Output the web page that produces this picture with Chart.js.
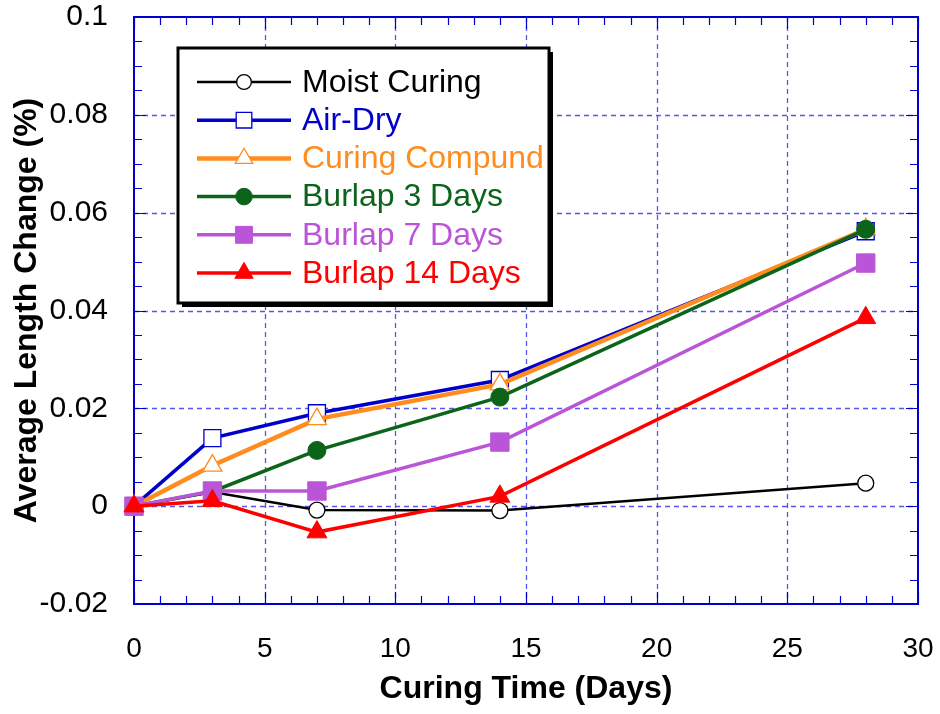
<!DOCTYPE html>
<html>
<head>
<meta charset="utf-8">
<script src="https://cdn.jsdelivr.net/npm/chart.js@4/dist/chart.umd.min.js"></script>
<style>
  html, body { margin: 0; padding: 0; background: #ffffff; }
  #wrap { width: 940px; height: 714px; }
</style>
</head>
<body>
<div id="wrap"><canvas id="c" width="940" height="714"></canvas></div>
<script>
// Curing time (days) at which length change was measured
const days = [0, 3, 7, 14, 28];

// Average length change (%) for each curing method
const moistCuring    = [0, 0.0029, -0.0008, -0.0009, 0.0047];
const airDry         = [0, 0.0139, 0.0190, 0.0258, 0.0562];
const curingCompound = [0, 0.0083, 0.0178, 0.0249, 0.0566];
const burlap3Days    = [0, 0.0030, 0.0114, 0.0223, 0.0566];
const burlap7Days    = [0, 0.0031, 0.0031, 0.0131, 0.0497];
const burlap14Days   = [0, 0.0011, -0.0053, 0.0020, 0.0385];

const seriesNames = ['Moist Curing', 'Air-Dry', 'Curing Compund', 'Burlap 3 Days', 'Burlap 7 Days', 'Burlap 14 Days'];

// Axis tick labels
const xTickLabels = ['0', '5', '10', '15', '20', '25', '30'];
const yTickLabels = ['-0.02', '0', '0.02', '0.04', '0.06', '0.08', '0.1'];

const FRAME = '#0000cc';
const GRID = '#5656e8';

const styles = [
  { color: '#000000', width: 2.5, point: 'circle',   radius: 8,    fill: false, border: 1.3 },
  { color: '#0000cc', width: 3.5, point: 'rect',     radius: 12,   fill: false, border: 1.3 },
  { color: '#ff8c1e', width: 4.5, point: 'triangle', radius: 11,   fill: false, border: 1.3 },
  { color: '#0b641a', width: 3.5, point: 'circle',   radius: 9,    fill: true,  border: 1 },
  { color: '#bb55d8', width: 3.5, point: 'rect',     radius: 13,   fill: true,  border: 1 },
  { color: '#ff0000', width: 3.5, point: 'triangle', radius: 11.5, fill: true,  border: 1 }
];
const seriesValues = [moistCuring, airDry, curingCompound, burlap3Days, burlap7Days, burlap14Days];

const datasets = seriesValues.map((vals, i) => {
  const s = styles[i];
  return {
    label: seriesNames[i],
    data: days.map((d, k) => ({ x: d, y: vals[k] })),
    showLine: true,
    borderColor: s.color,
    borderWidth: s.width,
    backgroundColor: s.color,
    pointStyle: s.point,
    pointRadius: s.radius,
    pointHoverRadius: s.radius,
    pointBackgroundColor: s.fill ? s.color : '#ffffff',
    pointBorderColor: s.color,
    pointBorderWidth: s.border,
    tension: 0,
    clip: false,
    order: seriesValues.length - i
  };
});

// Minor/major tick marks, dashed grid and the plot frame
const framePlugin = {
  id: 'frame',
  beforeDatasetsDraw(chart) {
    const { ctx, chartArea: a, scales: { x, y } } = chart;
    ctx.save();
    // dashed grid at major ticks
    ctx.strokeStyle = GRID;
    ctx.lineWidth = 1.3;
    ctx.setLineDash([5, 4]);
    for (let v = 5; v < 30; v += 5) {
      const px = Math.round(x.getPixelForValue(v)) + 0.5;
      ctx.beginPath(); ctx.moveTo(px, a.top); ctx.lineTo(px, a.bottom); ctx.stroke();
    }
    for (let k = 1; k < yTickLabels.length - 1; k++) {
      const py = Math.round(y.getPixelForValue(Number(yTickLabels[k]))) + 0.5;
      ctx.beginPath(); ctx.moveTo(a.left, py); ctx.lineTo(a.right, py); ctx.stroke();
    }
    ctx.setLineDash([]);
    // inward tick marks on all four sides
    ctx.strokeStyle = FRAME;
    ctx.lineWidth = 1.2;
    for (let v = 0; v <= 30; v += 1) {
      const len = v % 5 === 0 ? 12 : 8;
      const px = Math.round(x.getPixelForValue(v)) + 0.5;
      ctx.beginPath();
      ctx.moveTo(px, a.bottom); ctx.lineTo(px, a.bottom - len);
      ctx.moveTo(px, a.top); ctx.lineTo(px, a.top + len);
      ctx.stroke();
    }
    for (let k = 0; k <= 24; k++) {
      const v = -0.02 + k * 0.005;
      const len = k % 4 === 0 ? 12 : 8;
      const py = Math.round(y.getPixelForValue(v)) + 0.5;
      ctx.beginPath();
      ctx.moveTo(a.left, py); ctx.lineTo(a.left + len, py);
      ctx.moveTo(a.right, py); ctx.lineTo(a.right - len, py);
      ctx.stroke();
    }
    // plot frame
    ctx.lineWidth = 2;
    ctx.strokeRect(a.left, a.top, a.right - a.left, a.bottom - a.top);
    ctx.restore();
  }
};

function drawMarker(ctx, s, cx, cy) {
  ctx.save();
  ctx.beginPath();
  const r = s.radius;
  if (s.point === 'circle') {
    ctx.arc(cx, cy, r, 0, Math.PI * 2);
  } else if (s.point === 'rect') {
    const h = r * Math.SQRT1_2;
    ctx.rect(cx - h, cy - h, 2 * h, 2 * h);
  } else {
    for (let j = 0; j < 3; j++) {
      const ang = j * 2 * Math.PI / 3;
      const px = cx + Math.sin(ang) * r, py = cy - Math.cos(ang) * r;
      if (j === 0) ctx.moveTo(px, py); else ctx.lineTo(px, py);
    }
    ctx.closePath();
  }
  ctx.fillStyle = s.fill ? s.color : '#ffffff';
  ctx.fill();
  ctx.strokeStyle = s.color;
  ctx.lineWidth = s.border;
  ctx.stroke();
  ctx.restore();
}

// Boxed legend with drop shadow
const legendBoxPlugin = {
  id: 'legendBox',
  afterDraw(chart) {
    const ctx = chart.ctx;
    const bx = 178, by = 48, bw = 371, bh = 255;
    ctx.save();
    ctx.fillStyle = '#000000';
    ctx.fillRect(bx + 4, by + 4, bw, bh);
    ctx.fillStyle = '#ffffff';
    ctx.fillRect(bx, by, bw, bh);
    ctx.strokeStyle = '#000000';
    ctx.lineWidth = 3;
    ctx.strokeRect(bx, by, bw, bh);
    ctx.font = '32px "Liberation Sans", Arial, sans-serif';
    ctx.textBaseline = 'middle';
    ctx.textAlign = 'left';
    seriesNames.forEach((name, i) => {
      const s = styles[i];
      const yy = 82 + i * 38.2;
      ctx.strokeStyle = s.color;
      ctx.lineWidth = s.width;
      ctx.beginPath(); ctx.moveTo(197, yy); ctx.lineTo(291, yy); ctx.stroke();
      drawMarker(ctx, Object.assign({}, s, { radius: s.radius * 0.92 }), 244, yy);
      ctx.fillStyle = s.color;
      ctx.fillText(name, 302, yy + 1);
    });
    ctx.restore();
  }
};

new Chart(document.getElementById('c'), {
  type: 'scatter',
  data: { datasets },
  options: {
    responsive: false,
    animation: false,
    devicePixelRatio: 1,
    layout: { padding: { top: 17, right: 22, left: 0, bottom: 0 } },
    plugins: { legend: { display: false }, tooltip: { enabled: false } },
    scales: {
      x: {
        type: 'linear', min: 0, max: 30,
        afterFit(scale) { scale.height = 110; scale.paddingLeft = 0; scale.paddingRight = 0; },
        grid: { display: false, drawTicks: false, tickLength: 0 },
        border: { display: false },
        ticks: {
          stepSize: 5, padding: 28, color: '#000000',
          font: { family: '"Liberation Sans", Arial, sans-serif', size: 28 },
          maxRotation: 0,
          callback: (v, i) => xTickLabels[i]
        },
        title: {
          display: true, text: 'Curing Time (Days)', color: '#000000',
          font: { family: '"Liberation Sans", Arial, sans-serif', size: 32, weight: 'bold' },
          padding: { top: 0, bottom: 6 }
        }
      },
      y: {
        type: 'linear', min: -0.02, max: 0.1,
        afterFit(scale) { scale.width = 134; scale.paddingTop = 0; scale.paddingBottom = 0; },
        grid: { display: false, drawTicks: false, tickLength: 0 },
        border: { display: false },
        ticks: {
          stepSize: 0.02, padding: 26, color: '#000000',
          font: { family: '"Liberation Sans", Arial, sans-serif', size: 30 },
          callback: (v, i) => yTickLabels[i]
        },
        title: {
          display: true, text: 'Average Length Change (%)', color: '#000000',
          font: { family: '"Liberation Sans", Arial, sans-serif', size: 32, weight: 'bold' },
          padding: { top: 8, bottom: 0 }
        }
      }
    }
  },
  plugins: [framePlugin, legendBoxPlugin]
});
</script>
</body>
</html>
